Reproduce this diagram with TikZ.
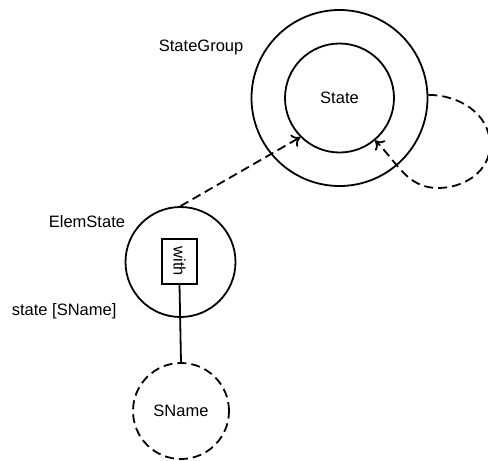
\documentclass[tikz,border=0pt]{standalone}
\usepackage{fontspec}
\setmainfont{Liberation Sans}
\usetikzlibrary{arrows.meta}
\begin{document}
\begin{tikzpicture}[x=1pt, y=-1pt, line width=1.8pt,
  every node/.style={font=\fontsize{16.5}{20}\selectfont},
  ring/.style={circle, draw, inner sep=0pt},
  dashline/.style={dash pattern=on 9pt off 5pt},
  link/.style={dashline, -{To[length=8pt,width=14pt,line width=1.8pt]}},
  label/.style={inner sep=0pt, anchor=west}]
\useasboundingbox (0,0) rectangle (488,461);

% state group with its inner state
\node[ring, minimum size=176pt] (group) at (339.5,98) {};
\node[ring, minimum size=109pt] (state) at (339.5,98) {State};
\node[label] (grouplbl) at (158,47) {StateGroup};

% element state with the "with" box
\node[ring, minimum size=110pt] (elem) at (180.5,262) {};
\node[draw, minimum width=35pt, minimum height=45pt, inner sep=0pt] (with) at (179.5,261.5) {\rotatebox{-90}{with}};
\node[label] (elemlbl) at (48,222) {ElemState};
\node[label] (slbl) at (11,311) {state [SName]};

% state name placeholder
\node[ring, dashline, minimum size=96pt] (sname) at (181,411) {SName};

% connectors
\draw (with.south) -- (sname.north);
\draw[link] (elem.north) -- (state.225);
\coordinate (loopout) at (group.2);
\draw[link] (loopout) to[out=0, in=90] (490,145) to[out=-90, in=0] (438,188) to[out=180, in=-45] (state.-50);
\end{tikzpicture}
\end{document}
